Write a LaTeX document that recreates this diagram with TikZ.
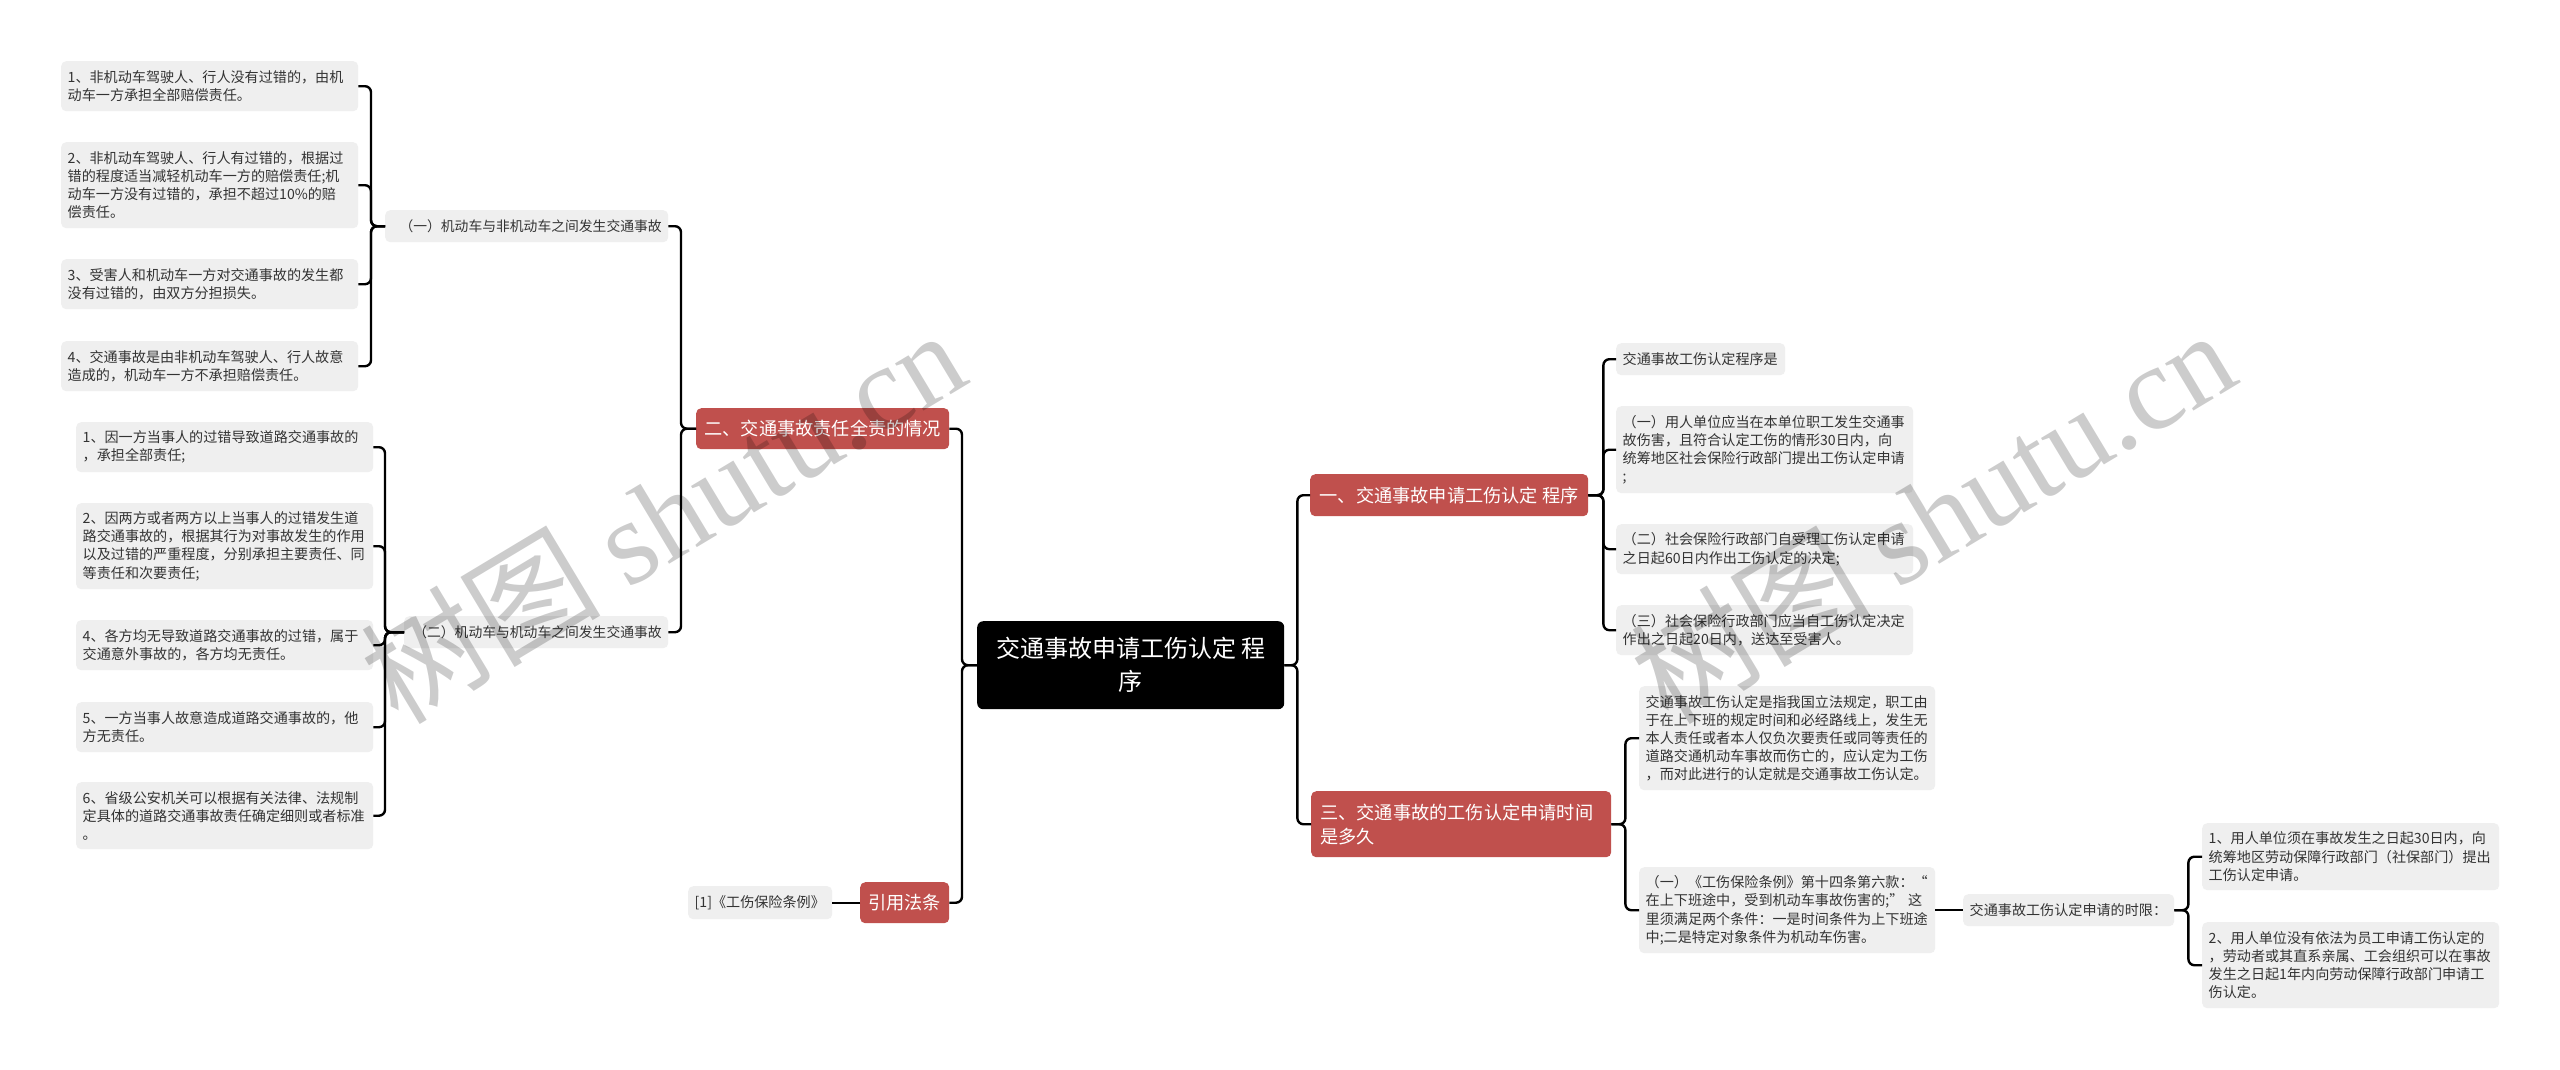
\documentclass[tikz,border=0pt]{standalone}
\usepackage{fontspec}
\setmainfont{Noto Sans CJK SC}
\newfontfamily\wmserif{Liberation Serif}
\newfontfamily\wmcjk{Noto Sans CJK SC}
\definecolor{leafgray}{HTML}{EFEFEF}
\definecolor{redfill}{HTML}{C0504D}
\definecolor{txtgray}{HTML}{333333}
\newcommand\leaffont{\fontsize{14.1pt}{18.2pt}\selectfont}
\newcommand\midfont{\fontsize{13.8pt}{18pt}\selectfont}
\newcommand\redfont{\fontsize{18.2pt}{24pt}\selectfont}
\newcommand\rootfont{\fontsize{24pt}{33pt}\selectfont}
\newcommand\wmfont{\fontsize{120pt}{120pt}\selectfont}
\begin{document}
\begin{tikzpicture}[x=1pt,y=-1pt,
  leafbox/.style={fill=leafgray, rounded corners=5pt, anchor=north west, inner xsep=6.5pt, inner ysep=0pt, align=left, text=txtgray, font=\leaffont},
  midbox/.style={leafbox, align=right, font=\midfont},
  redbox/.style={fill=redfill, rounded corners=5pt, anchor=north west, inner sep=0pt, text=white, font=\redfont},
  conn/.style={draw=black, line width=2.4pt, rounded corners=6pt},
  wm/.style={rotate=31, text=black, opacity=0.2, font=\wmfont, inner sep=0pt}
]
\fill[white] (0,0) rectangle (2560,1069);
\useasboundingbox (0,0) rectangle (2560,1069);

% root
\node[fill=black, rounded corners=6pt, anchor=north west, minimum width=307pt, minimum height=88pt, inner sep=0pt, text=white, align=center, font=\rootfont] (root) at (977,621) {交通事故申请工伤认定 程\\序};

% left main branches
\node[redbox, minimum width=253pt, minimum height=41pt] (n2) at (696,408) {二、交通事故责任全责的情况};
\node[redbox, minimum width=89pt, minimum height=41pt] (cite) at (860,882) {引用法条};
\node[leafbox, text width=131pt, minimum height=33pt] (ref) at (688,886) {[1]《工伤保险条例》};

% mid nodes
\node[midbox, text width=270pt, minimum height=32pt] (m1) at (385,210) {（一）机动车与非机动车之间发生交通事故};
\node[midbox, text width=251pt, minimum height=32pt] (m2) at (404,616) {（二）机动车与机动车之间发生交通事故};

% leaves group 1
\node[leafbox, text width=284pt, minimum height=50pt] (l1a) at (61,61) {1、非机动车驾驶人、行人没有过错的，由机\\动车一方承担全部赔偿责任。};
\node[leafbox, text width=284pt, minimum height=86pt] (l1b) at (61,142) {2、非机动车驾驶人、行人有过错的，根据过\\错的程度适当减轻机动车一方的赔偿责任;机\\动车一方没有过错的，承担不超过10\%的赔\\偿责任。};
\node[leafbox, text width=284pt, minimum height=50pt] (l1c) at (61,259) {3、受害人和机动车一方对交通事故的发生都\\没有过错的，由双方分担损失。};
\node[leafbox, text width=284pt, minimum height=50pt] (l1d) at (61,341) {4、交通事故是由非机动车驾驶人、行人故意\\造成的，机动车一方不承担赔偿责任。};

% leaves group 2
\node[leafbox, text width=284pt, minimum height=50pt] (l2a) at (76,422) {1、因一方当事人的过错导致道路交通事故的\\，承担全部责任;};
\node[leafbox, text width=284pt, minimum height=86pt] (l2b) at (76,503) {2、因两方或者两方以上当事人的过错发生道\\路交通事故的，根据其行为对事故发生的作用\\以及过错的严重程度，分别承担主要责任、同\\等责任和次要责任;};
\node[leafbox, text width=284pt, minimum height=50pt] (l2c) at (76,620) {4、各方均无导致道路交通事故的过错，属于\\交通意外事故的，各方均无责任。};
\node[leafbox, text width=284pt, minimum height=50pt] (l2d) at (76,702) {5、一方当事人故意造成道路交通事故的，他\\方无责任。};
\node[leafbox, text width=284pt, minimum height=67pt] (l2e) at (76,782) {6、省级公安机关可以根据有关法律、法规制\\定具体的道路交通事故责任确定细则或者标准\\。};

% right main branches
\node[redbox, minimum width=278pt, minimum height=42pt] (n1) at (1310,474) {一、交通事故申请工伤认定 程序};
\node[redbox, minimum width=300pt, minimum height=66pt, text width=282pt, inner xsep=9pt, align=left] (n3) at (1311,791) {三、交通事故的工伤认定申请时间\\是多久};

% right leaves
\node[leafbox, text width=156pt, minimum height=32pt] (r1a) at (1616,343) {交通事故工伤认定程序是};
\node[leafbox, text width=284pt, minimum height=87pt] (r1b) at (1616,406) {（一）用人单位应当在本单位职工发生交通事\\故伤害，且符合认定工伤的情形30日内，向\\统筹地区社会保险行政部门提出工伤认定申请\\;};
\node[leafbox, text width=284pt, minimum height=50pt] (r1c) at (1616,524) {（二）社会保险行政部门自受理工伤认定申请\\之日起60日内作出工伤认定的决定;};
\node[leafbox, text width=284pt, minimum height=50pt] (r1d) at (1616,605) {（三）社会保险行政部门应当自工伤认定决定\\作出之日起20日内，送达至受害人。};

\node[leafbox, text width=283pt, minimum height=104pt] (r3a) at (1639,686) {交通事故工伤认定是指我国立法规定，职工由\\于在上下班的规定时间和必经路线上，发生无\\本人责任或者本人仅负次要责任或同等责任的\\道路交通机动车事故而伤亡的，应认定为工伤\\，而对此进行的认定就是交通事故工伤认定。};
\node[leafbox, text width=283pt, minimum height=86pt] (r3b) at (1639,867) {（一）《工伤保险条例》第十四条第六款：“\\在上下班途中，受到机动车事故伤害的;” 这\\里须满足两个条件：一是时间条件为上下班途\\中;二是特定对象条件为机动车伤害。};
\node[leafbox, text width=198pt, minimum height=32pt] (lim) at (1963,894) {交通事故工伤认定申请的时限：};
\node[leafbox, text width=284pt, minimum height=67pt] (t1) at (2202,823) {1、用人单位须在事故发生之日起30日内，向\\统筹地区劳动保障行政部门（社保部门）提出\\工伤认定申请。};
\node[leafbox, text width=284pt, minimum height=86pt] (t2) at (2202,922) {2、用人单位没有依法为员工申请工伤认定的\\，劳动者或其直系亲属、工会组织可以在事故\\发生之日起1年内向劳动保障行政部门申请工\\伤认定。};

% connectors
\draw[conn] (root.west) -- ++(-15,0) |- (n2.east);
\draw[conn] (root.west) -- ++(-15,0) |- (cite.east);
\draw[conn] (root.east) -- ++(13,0) |- (n1.west);
\draw[conn] (root.east) -- ++(13,0) |- (n3.west);
\draw[conn] (n2.west) -- ++(-15,0) |- (m1.east);
\draw[conn] (n2.west) -- ++(-15,0) |- (m2.east);
\foreach \c in {l1a,l1b,l1c,l1d} \draw[conn] (m1.west) -- ++(-14,0) |- (\c.east);
\foreach \c in {l2a,l2b,l2c,l2d,l2e} \draw[conn] (m2.west) -- ++(-19,0) |- (\c.east);
\draw[conn] (cite.west) -- (ref.east);
\foreach \c in {r1a,r1b,r1c,r1d} \draw[conn] (n1.east) -- ++(15,0) |- (\c.west);
\foreach \c in {r3a,r3b} \draw[conn] (n3.east) -- ++(14,0) |- (\c.west);
\draw[conn] (r3b.east) -- (lim.west);
\foreach \c in {t1,t2} \draw[conn] (lim.east) -- ++(14,0) |- (\c.west);

% watermarks
\node[wm] (wm1) at (662,515) {\wmcjk 树图 \wmserif shutu.cn};
\node[wm] (wm2) at (1932,515) {\wmcjk 树图 \wmserif shutu.cn};
\end{tikzpicture}
\end{document}
